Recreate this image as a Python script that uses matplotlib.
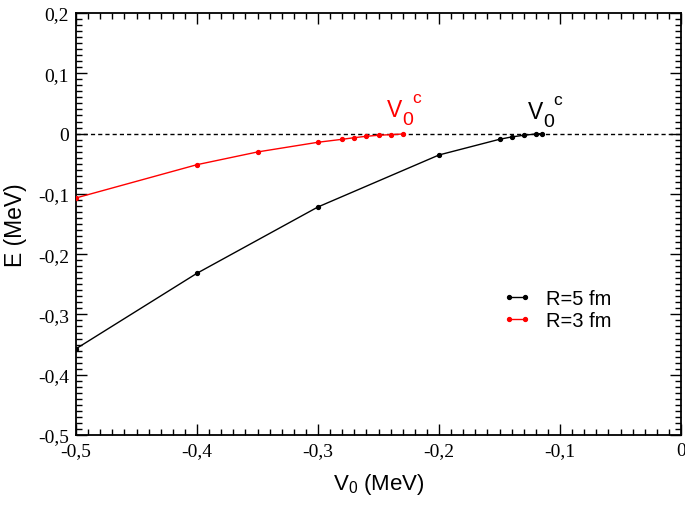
import matplotlib
matplotlib.use("Agg")
import matplotlib.pyplot as plt
from matplotlib.ticker import MultipleLocator, FixedLocator

# R = 5 fm series
v0_r5 = [-0.5, -0.4, -0.3, -0.2, -0.15, -0.14, -0.13, -0.12, -0.115]
e_r5 = [-0.357, -0.2317, -0.1217, -0.0355, -0.0095, -0.0056, -0.0028, -0.0007, 0.0]

# R = 3 fm series
v0_r3 = [-0.5, -0.4, -0.35, -0.3, -0.28, -0.27, -0.26, -0.25, -0.24, -0.23]
e_r3 = [-0.1068, -0.0516, -0.0305, -0.0144, -0.0095, -0.0068, -0.0045, -0.0028, -0.0018, -0.0007]

x_ticks = [-0.5, -0.4, -0.3, -0.2, -0.1, 0.0]
x_labels = ["-0,5", "-0,4", "-0,3", "-0,2", "-0,1", "0"]
y_ticks = [-0.5, -0.4, -0.3, -0.2, -0.1, 0.0, 0.1, 0.2]
y_labels = ["-0,5", "-0,4", "-0,3", "-0,2", "-0,1", "0", "0,1", "0,2"]

SANS = "Liberation Sans"
SERIF = "Liberation Serif"

fig = plt.figure(figsize=(6.85, 5.06), dpi=100)
ax = fig.add_axes([76 / 685, 1 - 436 / 506, 605 / 685, 422 / 506])

ax.axhline(0, color="black", lw=1.0, ls=(0, (3, 2.2)), zorder=1)

ax.plot(v0_r5, e_r5, color="black", lw=1.0, marker="o", markersize=2.8,
        label="R=5 fm", zorder=3)
ax.plot(v0_r3, e_r3, color="red", lw=1.0, marker="o", markersize=2.8,
        label="R=3 fm", zorder=3)

ax.set_xlim(-0.5, 0.0)
ax.set_ylim(-0.5, 0.2)

ax.xaxis.set_major_locator(FixedLocator(x_ticks))
ax.yaxis.set_major_locator(FixedLocator(y_ticks))
ax.xaxis.set_minor_locator(MultipleLocator(0.01))
ax.yaxis.set_minor_locator(MultipleLocator(0.01))
ax.set_xticklabels(x_labels, fontfamily=SERIF, fontsize=14)
ax.set_yticklabels(y_labels, fontfamily=SERIF, fontsize=14)

ax.tick_params(which="both", direction="in", top=True, right=True, width=1.0)
ax.tick_params(which="major", length=8, pad=5)
ax.tick_params(which="minor", length=4.5)
for sp in ax.spines.values():
    sp.set_linewidth(1.3)

ax.set_xlabel(r"$\mathregular{V_0}$ (MeV)", fontfamily=SANS, fontsize=16, labelpad=9)
ax.set_ylabel("E (MeV)", fontfamily=SANS, fontsize=16.5, labelpad=8)

# V0^c annotations
def v0c(x, y, color):
    ax.text(x, y, "V", color=color, fontfamily=SANS, fontsize=16.5,
            transform=fig.transFigure, ha="left", va="baseline")
    ax.text(x + 15 / 685, y - 8 / 506, "0", color=color, fontfamily=SANS,
            fontsize=14, transform=fig.transFigure, ha="left", va="baseline")
    ax.text(x + 25 / 685, y + 14 / 506, "c", color=color, fontfamily=SANS,
            fontsize=12.5, transform=fig.transFigure, ha="left", va="baseline")

v0c(387 / 685, 1 - 117 / 506, "red")
v0c(528 / 685, 1 - 119 / 506, "black")

leg = ax.legend(loc="upper left", bbox_to_anchor=(503 / 685, 1 - 290 / 506),
                bbox_transform=fig.transFigure, frameon=False, numpoints=2,
                handlelength=1.4, handletextpad=0.75, labelspacing=0.15,
                borderpad=0, borderaxespad=0,
                prop={"family": SANS, "size": 14.5})

fig.savefig("out.png", dpi=100)
